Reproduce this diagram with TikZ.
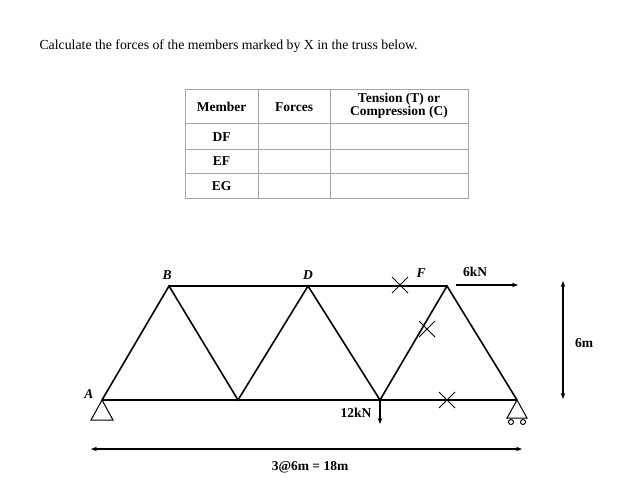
\documentclass[tikz,border=0pt]{standalone}
\usepackage{fontspec}
\setmainfont{Liberation Serif}
\usetikzlibrary{arrows.meta}
\begin{document}
\begin{tikzpicture}[x=1pt,y=-1pt,
  mem/.style={line width=1.6pt},
  grid/.style={draw=gray!70,line width=0.8pt},
  lab/.style={font=\bfseries\itshape\fontsize{13.5}{15}\selectfont},
  blab/.style={font=\bfseries\fontsize{13.5}{13.5}\selectfont},
  xmark/.style={line width=0.8pt},
  arr/.style={line width=1.2pt,-{Stealth[length=6pt]}},
  dim/.style={line width=1.2pt,{Stealth[length=6pt]}-{Stealth[length=6pt]}}]
\useasboundingbox (0,0) rectangle (644,503);
\node[anchor=west,font=\fontsize{13.8}{16}\selectfont] (title) at (36,46) {Calculate the forces of the members marked by X in the truss below.};
% table
\draw[grid] (185,89) rectangle (468,198);
\foreach \yy in {123,149,173} \draw[grid] (185,\yy) -- (468,\yy);
\foreach \xx in {258,330} \draw[grid] (\xx,89) -- (\xx,198);
\node[blab] (h1) at (221.5,107) {Member};
\node[blab] (h2) at (294,107) {Forces};
\node[blab,align=center] (h3) at (399,106) {Tension (T) or\\Compression (C)};
\node[blab] (r1) at (221.5,137) {DF};
\node[blab] (r2) at (221.5,161) {EF};
\node[blab] (r3) at (221.5,186) {EG};
% truss
\coordinate (A) at (102,400); \coordinate (C) at (238,400);
\coordinate (E) at (380,400); \coordinate (G) at (517,400);
\coordinate (B) at (169,286); \coordinate (D) at (308,286);
\coordinate (F) at (447,286);
\draw[mem] (A)--(G);
\draw[mem] (B)--(F);
\draw[mem] (A)--(B)--(C)--(D)--(E)--(F)--(G);
\node[lab] (lA) at (89,394) {A};
\node[lab] (lB) at (167,275) {B};
\node[lab] (lD) at (308,275) {D};
\node[lab] (lF) at (421,273) {F};
% crosses
\foreach \cx/\cy in {400/285,427/329,447/400}
  \draw[xmark] (\cx-8,\cy-8)--(\cx+8,\cy+8) (\cx-8,\cy+8)--(\cx+8,\cy-8);
% supports
\draw[line width=1pt] (A)--(91,420)--(113,420)--cycle;
\draw[line width=1pt] (G)--(507,418)--(527,418)--cycle;
\draw[line width=1pt] (511,422) circle (2.5) (523,422) circle (2.5);
% loads
\coordinate (Fr) at (456,285); \coordinate (Fe) at (518,285);
\draw[arr] (Fr)--(Fe);
\node[blab] (l6) at (475,272) {6kN};
\coordinate (Ee) at (380,424);
\draw[arr] (E)--(Ee);
\node[blab] (l12) at (356,413) {12kN};
% dimensions
\coordinate (d1) at (91,449); \coordinate (d2) at (522,449);
\draw[dim] (d1)--(d2);
\node[blab] (l18) at (310,467) {3@6m = 18m};
\coordinate (v1) at (563,281); \coordinate (v2) at (563,399);
\draw[dim] (v1)--(v2);
\node[blab] (l6m) at (584,343) {6m};
\end{tikzpicture}
\end{document}
